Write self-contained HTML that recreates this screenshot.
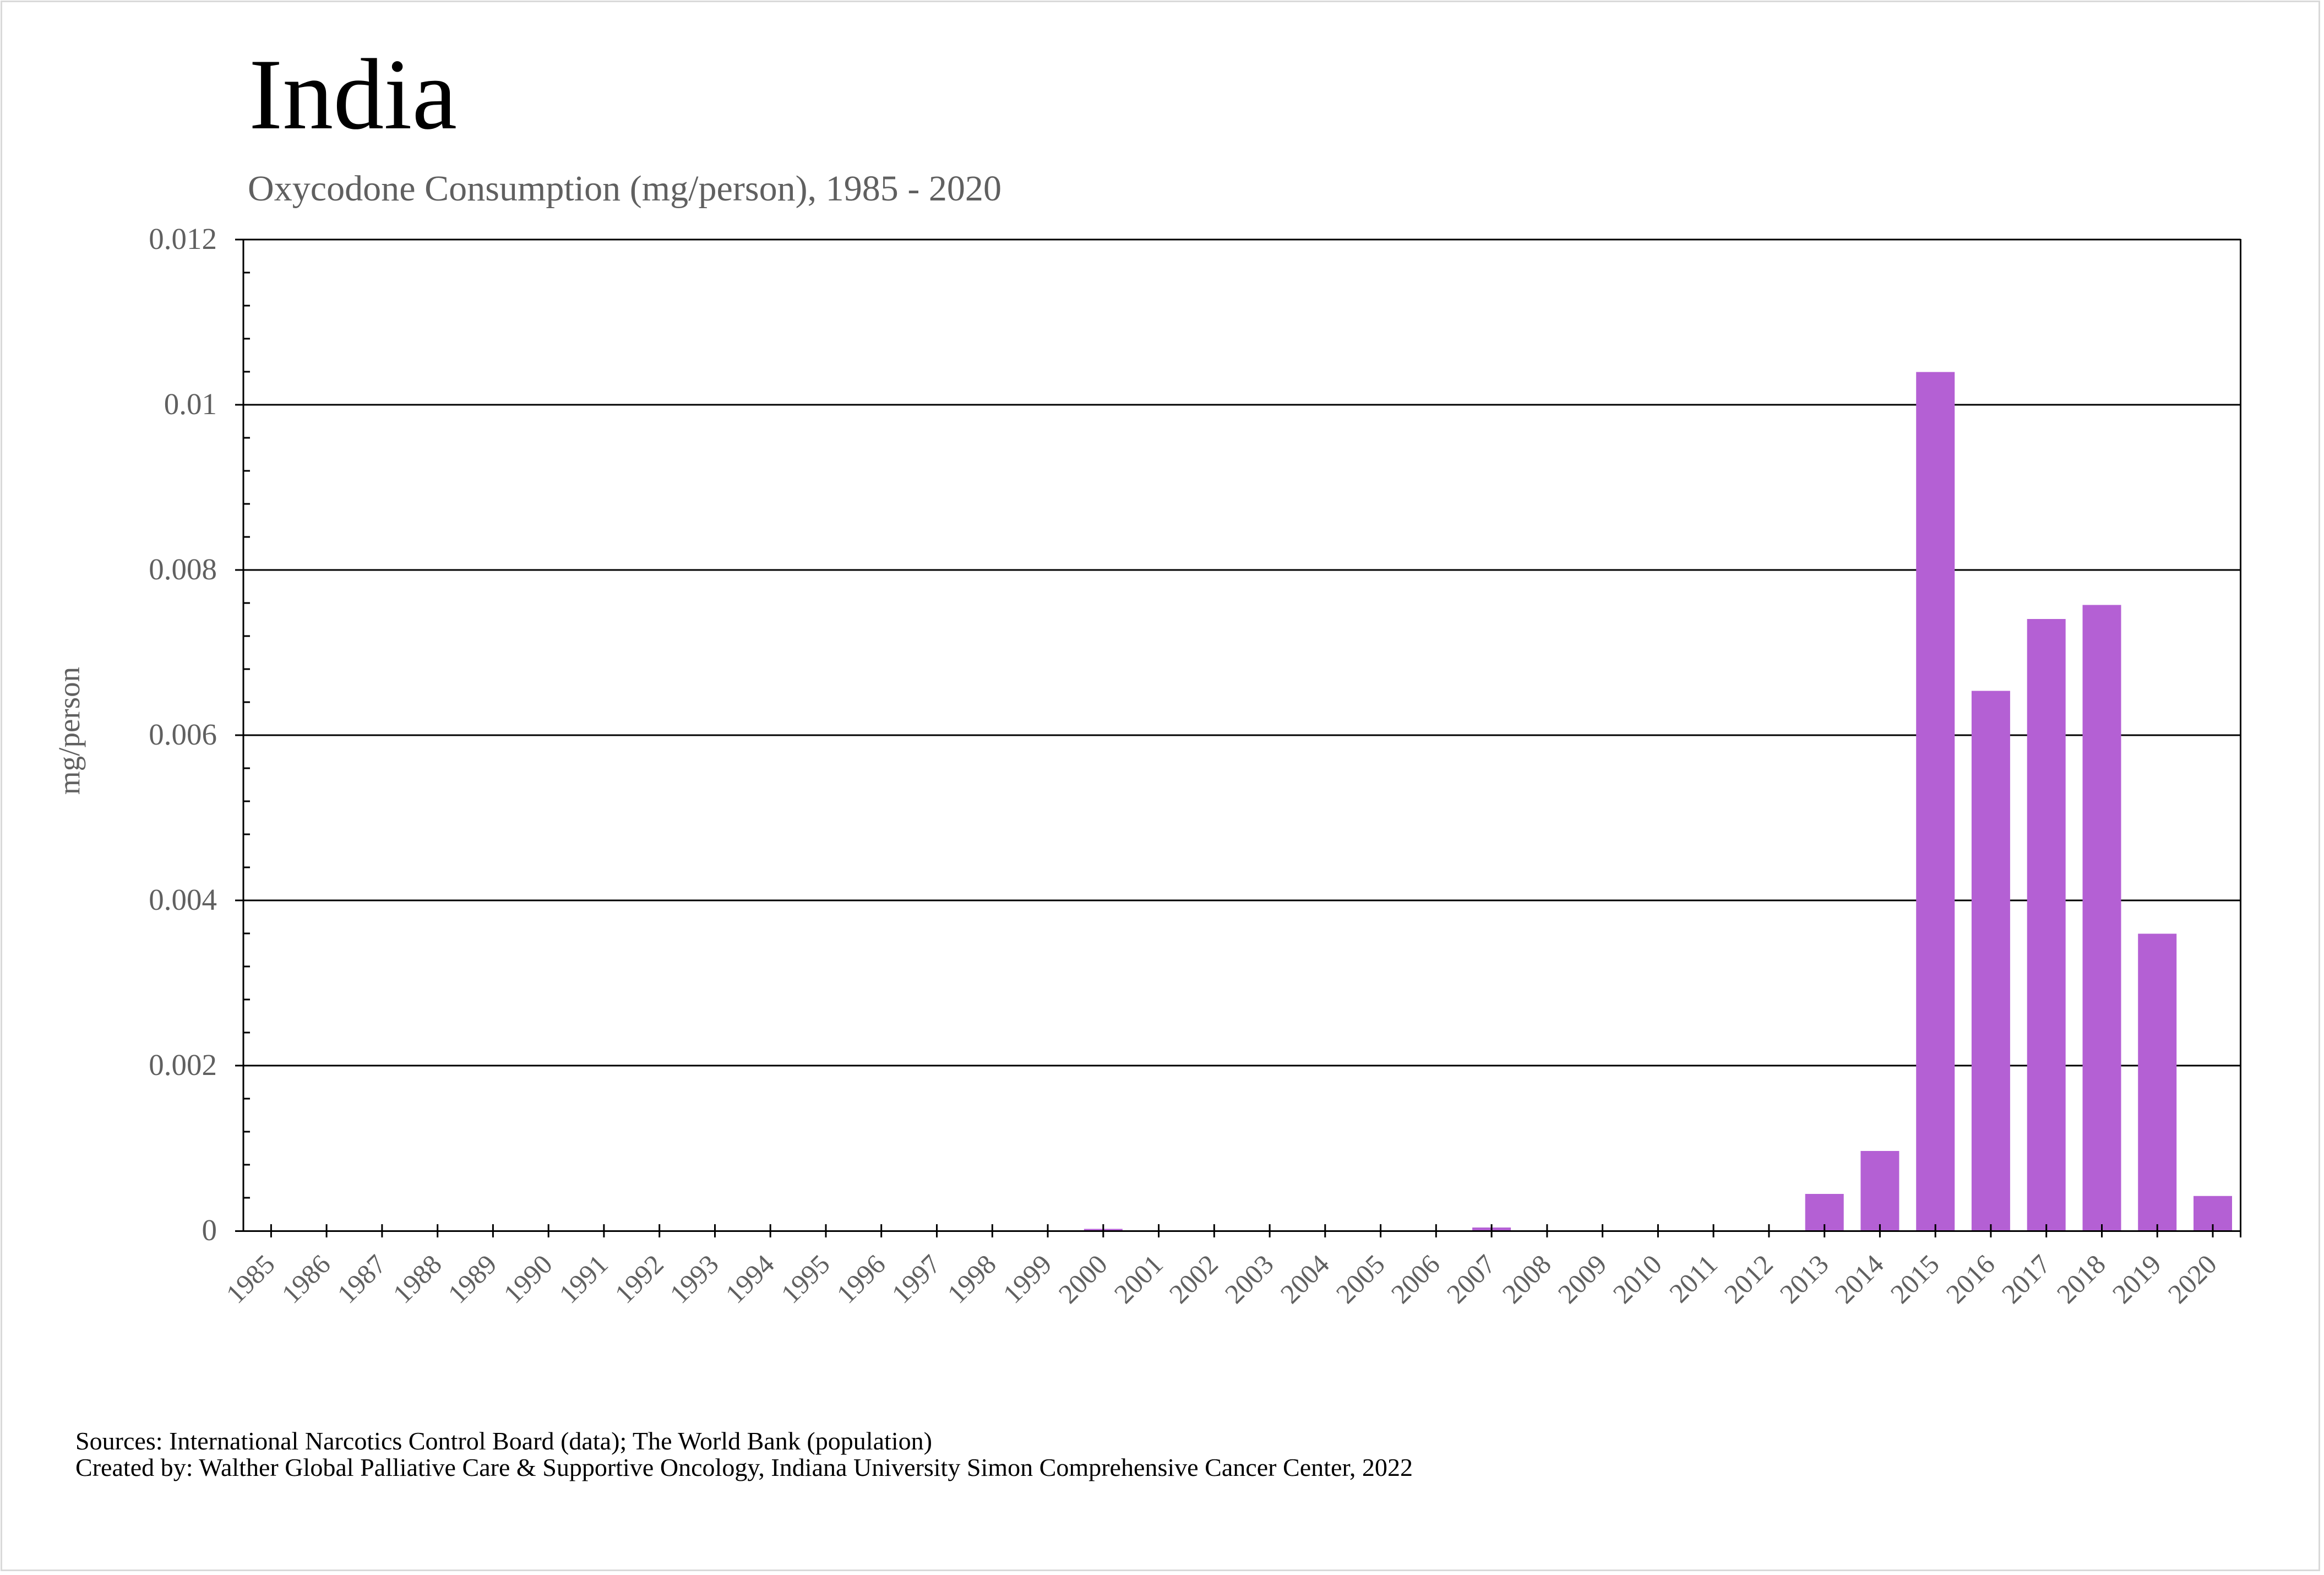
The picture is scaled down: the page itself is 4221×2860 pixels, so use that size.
<!DOCTYPE html>
<html>
<head>
<meta charset="utf-8">
<style>
  html, body { margin: 0; padding: 0; background: #ffffff; }
  body { width: 4221px; height: 2860px; overflow: hidden; }
  svg { display: block; }
  text { font-family: "Liberation Serif", "Times New Roman", serif; }
</style>
</head>
<body>
<svg width="4221" height="2860" viewBox="0 0 4221 2860" xmlns="http://www.w3.org/2000/svg">
  <rect x="0" y="0" width="4221" height="2860" fill="#ffffff"/>
  <!-- outer frame -->
  <rect x="2.5" y="2.5" width="4210" height="2849" fill="none" stroke="#d9d9d9" stroke-width="3"/>

  <!-- Title & subtitle -->
  <text x="452" y="233" font-size="184" fill="#000000">India</text>
  <text x="450" y="364" font-size="66" fill="#606060" textLength="1369" lengthAdjust="spacingAndGlyphs">Oxycodone Consumption (mg/person), 1985 - 2020</text>

  <!-- Gridlines (major, extend left as ticks) -->
  <g stroke="#000000" stroke-width="3" fill="none">
    <line x1="427" y1="435" x2="4069.5" y2="435"/>
    <line x1="427" y1="735" x2="4069.5" y2="735"/>
    <line x1="427" y1="1035" x2="4069.5" y2="1035"/>
    <line x1="427" y1="1335" x2="4069.5" y2="1335"/>
    <line x1="427" y1="1635" x2="4069.5" y2="1635"/>
    <line x1="427" y1="1935" x2="4069.5" y2="1935"/>
  </g>

  <!-- Bars -->
  <g fill="#b460d4">
    <rect x="1968.8" y="2231.5" width="70" height="4"/>
    <rect x="2674.1" y="2229" width="70" height="6.5"/>
    <rect x="3278.7" y="2168" width="70" height="67.5"/>
    <rect x="3379.4" y="2090" width="70" height="145.5"/>
    <rect x="3480.2" y="675.5" width="70" height="1560"/>
    <rect x="3580.9" y="1254.5" width="70" height="981"/>
    <rect x="3681.7" y="1124" width="70" height="1111.5"/>
    <rect x="3782.5" y="1098.5" width="70" height="1137"/>
    <rect x="3883.2" y="1695.5" width="70" height="540"/>
    <rect x="3984.0" y="2171.75" width="70" height="63.75"/>
  </g>

  <!-- Axes -->
  <g stroke="#000000" stroke-width="3" fill="none">
    <line x1="442" y1="434" x2="442" y2="2235"/>
    <line x1="4069.5" y1="434" x2="4069.5" y2="2247"/>
    <line x1="427" y1="2235.5" x2="4069.5" y2="2235.5"/>
    <!-- minor y ticks -->
    <path d="M442 495H454M442 555H454M442 615H454M442 675H454M442 795H454M442 855H454M442 915H454M442 975H454M442 1095H454M442 1155H454M442 1215H454M442 1275H454M442 1395H454M442 1455H454M442 1515H454M442 1575H454M442 1695H454M442 1755H454M442 1815H454M442 1875H454M442 1995H454M442 2055H454M442 2115H454M442 2175H454"/>
    <!-- x ticks -->
    <path d="M492.4 2223V2247M593.1 2223V2247M693.9 2223V2247M794.7 2223V2247M895.4 2223V2247M996.2 2223V2247M1096.9 2223V2247M1197.7 2223V2247M1298.5 2223V2247M1399.2 2223V2247M1500 2223V2247M1600.7 2223V2247M1701.5 2223V2247M1802.3 2223V2247M1903 2223V2247M2003.8 2223V2247M2104.5 2223V2247M2205.3 2223V2247M2306.1 2223V2247M2406.8 2223V2247M2507.6 2223V2247M2608.3 2223V2247M2709.1 2223V2247M2809.9 2223V2247M2910.6 2223V2247M3011.4 2223V2247M3112.1 2223V2247M3212.9 2223V2247M3313.7 2223V2247M3414.4 2223V2247M3515.2 2223V2247M3615.9 2223V2247M3716.7 2223V2247M3817.5 2223V2247M3918.2 2223V2247M4019 2223V2247"/>
  </g>

  <!-- Y tick labels -->
  <g font-size="55" fill="#606060" text-anchor="end">
    <text x="394" y="452">0.012</text>
    <text x="394" y="752">0.01</text>
    <text x="394" y="1052">0.008</text>
    <text x="394" y="1352">0.006</text>
    <text x="394" y="1652">0.004</text>
    <text x="394" y="1952">0.002</text>
    <text x="394" y="2252">0</text>
  </g>

  <!-- Y axis title -->
  <text transform="translate(144,1327) rotate(-90)" font-size="55" fill="#606060" text-anchor="middle">mg/person</text>

  <!-- X tick labels -->
  <g font-size="50" fill="#606060" text-anchor="end">
    <text x="502" y="2299" transform="rotate(-45 502 2299)">1985</text>
    <text x="603" y="2299" transform="rotate(-45 603 2299)">1986</text>
    <text x="704" y="2299" transform="rotate(-45 704 2299)">1987</text>
    <text x="805" y="2299" transform="rotate(-45 805 2299)">1988</text>
    <text x="905" y="2299" transform="rotate(-45 905 2299)">1989</text>
    <text x="1006" y="2299" transform="rotate(-45 1006 2299)">1990</text>
    <text x="1107" y="2299" transform="rotate(-45 1107 2299)">1991</text>
    <text x="1208" y="2299" transform="rotate(-45 1208 2299)">1992</text>
    <text x="1308" y="2299" transform="rotate(-45 1308 2299)">1993</text>
    <text x="1409" y="2299" transform="rotate(-45 1409 2299)">1994</text>
    <text x="1510" y="2299" transform="rotate(-45 1510 2299)">1995</text>
    <text x="1611" y="2299" transform="rotate(-45 1611 2299)">1996</text>
    <text x="1711" y="2299" transform="rotate(-45 1711 2299)">1997</text>
    <text x="1812" y="2299" transform="rotate(-45 1812 2299)">1998</text>
    <text x="1913" y="2299" transform="rotate(-45 1913 2299)">1999</text>
    <text x="2014" y="2299" transform="rotate(-45 2014 2299)">2000</text>
    <text x="2115" y="2299" transform="rotate(-45 2115 2299)">2001</text>
    <text x="2215" y="2299" transform="rotate(-45 2215 2299)">2002</text>
    <text x="2316" y="2299" transform="rotate(-45 2316 2299)">2003</text>
    <text x="2417" y="2299" transform="rotate(-45 2417 2299)">2004</text>
    <text x="2518" y="2299" transform="rotate(-45 2518 2299)">2005</text>
    <text x="2618" y="2299" transform="rotate(-45 2618 2299)">2006</text>
    <text x="2719" y="2299" transform="rotate(-45 2719 2299)">2007</text>
    <text x="2820" y="2299" transform="rotate(-45 2820 2299)">2008</text>
    <text x="2921" y="2299" transform="rotate(-45 2921 2299)">2009</text>
    <text x="3021" y="2299" transform="rotate(-45 3021 2299)">2010</text>
    <text x="3122" y="2299" transform="rotate(-45 3122 2299)">2011</text>
    <text x="3223" y="2299" transform="rotate(-45 3223 2299)">2012</text>
    <text x="3324" y="2299" transform="rotate(-45 3324 2299)">2013</text>
    <text x="3424" y="2299" transform="rotate(-45 3424 2299)">2014</text>
    <text x="3525" y="2299" transform="rotate(-45 3525 2299)">2015</text>
    <text x="3626" y="2299" transform="rotate(-45 3626 2299)">2016</text>
    <text x="3727" y="2299" transform="rotate(-45 3727 2299)">2017</text>
    <text x="3827" y="2299" transform="rotate(-45 3827 2299)">2018</text>
    <text x="3928" y="2299" transform="rotate(-45 3928 2299)">2019</text>
    <text x="4029" y="2299" transform="rotate(-45 4029 2299)">2020</text>
  </g>

  <!-- Footer -->
  <text x="137" y="2632" font-size="46" fill="#000000" textLength="1556" lengthAdjust="spacingAndGlyphs">Sources: International Narcotics Control Board (data); The World Bank (population)</text>
  <text x="137" y="2680" font-size="46" fill="#000000" textLength="2429" lengthAdjust="spacingAndGlyphs">Created by: Walther Global Palliative Care &amp; Supportive Oncology, Indiana University Simon Comprehensive Cancer Center, 2022</text>
</svg>
</body>
</html>
